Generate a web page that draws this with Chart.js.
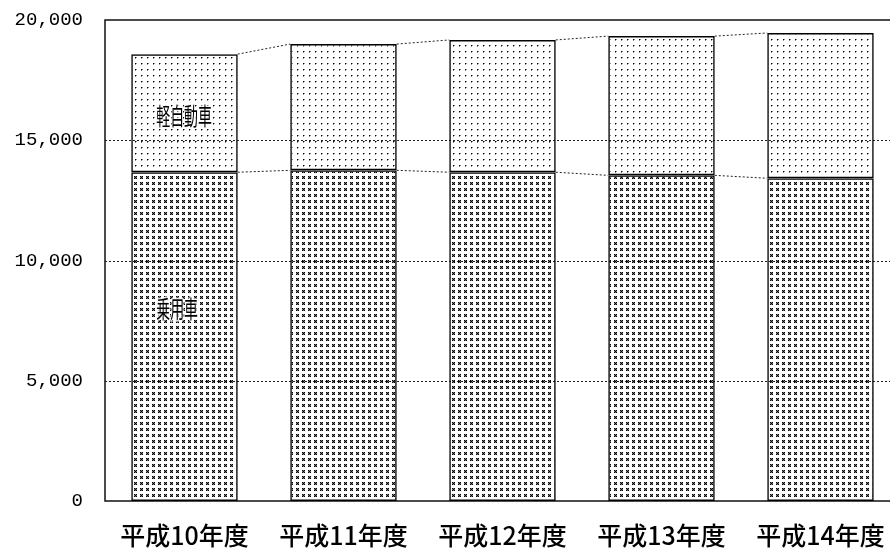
<!DOCTYPE html>
<html lang="ja">
<head>
<meta charset="utf-8">
<script src="https://cdn.jsdelivr.net/npm/chart.js@4"></script>
<style>
  html, body { margin: 0; padding: 0; background: #fff; overflow: hidden; }
  #wrap { width: 890px; height: 552px; overflow: hidden; }
</style>
</head>
<body>
<div id="wrap"><canvas id="grafico" width="905" height="552"></canvas></div>
<script>
// 年度
const categorias = ['平成10年度', '平成11年度', '平成12年度', '平成13年度', '平成14年度'];
// 乗用車 / 軽自動車 (台数)
const joyosha = [13670, 13750, 13670, 13540, 13420];
const keijidosha = [4910, 5250, 5500, 5790, 6040];
// 目盛
const yTicks = [0, 5000, 10000, 15000, 20000];
// 棒の中のラベル [系列, 年度, 値]
const etiquetas = [['軽自動車', 0, 16000], ['乗用車', 0, 8000]];

// 網掛けパターン
function padraoPontos() {
    const c = document.createElement('canvas');
    c.width = 6; c.height = 6;
    const g = c.getContext('2d');
    g.fillStyle = '#000';
    g.fillRect(3, 3, 1, 1);
    g.fillStyle = 'rgba(0,0,0,0.45)';
    g.fillRect(4, 3, 1, 1);
    g.fillRect(3, 4, 1, 1);
    return g.createPattern(c, 'repeat');
}
function padraoCruz() {
    const c = document.createElement('canvas');
    c.width = 6; c.height = 6;
    const g = c.getContext('2d');
    g.fillStyle = 'rgba(0,0,0,0.55)';
    g.fillRect(2, 2, 3, 3);
    g.fillStyle = '#000';
    [[2, 2], [4, 2], [3, 3], [2, 4], [4, 4]].forEach(p => g.fillRect(p[0], p[1], 1, 1));
    return g.createPattern(c, 'repeat');
}

const ctx = document.getElementById('grafico').getContext('2d');

// 点線の目盛線と枠
const gradePlugin = {
    id: 'grade',
    beforeDatasetsDraw(chart) {
        const { ctx, chartArea: a, scales: { y } } = chart;
        ctx.save();
        ctx.strokeStyle = '#222';
        ctx.lineWidth = 1;
        ctx.setLineDash([2, 2]);
        yTicks.slice(1, -1).forEach(v => {
            const py = Math.round(y.getPixelForValue(v)) + 0.5;
            ctx.beginPath();
            ctx.moveTo(a.left, py);
            ctx.lineTo(a.right, py);
            ctx.stroke();
        });
        ctx.setLineDash([]);
        ctx.lineWidth = 1.5;
        ctx.strokeStyle = '#111';
        ctx.beginPath();
        ctx.moveTo(a.right, a.top);
        ctx.lineTo(a.left, a.top);
        ctx.lineTo(a.left, a.bottom);
        ctx.lineTo(a.right, a.bottom);
        ctx.stroke();
        ctx.restore();
    }
};

// 棒どうしを結ぶ点線とラベル
const ligacaoPlugin = {
    id: 'ligacao',
    afterDatasetsDraw(chart) {
        const { ctx } = chart;
        ctx.save();
        ctx.strokeStyle = '#222';
        ctx.lineWidth = 1;
        ctx.setLineDash([2, 2]);
        chart.data.datasets.forEach((ds, di) => {
            const meta = chart.getDatasetMeta(di);
            for (let i = 0; i < meta.data.length - 1; i++) {
                const b = meta.data[i], n = meta.data[i + 1];
                ctx.beginPath();
                ctx.moveTo(b.x + b.width / 2, b.y);
                ctx.lineTo(n.x - n.width / 2, n.y);
                ctx.stroke();
            }
        });
        ctx.setLineDash([]);
        const y = chart.scales.y;
        ctx.font = '24px "Noto Sans CJK JP"';
        ctx.textBaseline = 'middle';
        ctx.textAlign = 'left';
        ctx.lineJoin = 'round';
        etiquetas.forEach(([txt, idx, val]) => {
            const bar = chart.getDatasetMeta(0).data[idx];
            const px = bar.x - bar.width / 2 + 25;
            const py = y.getPixelForValue(val);
            ctx.save();
            ctx.translate(px, py);
            ctx.scale(0.58, 1);
            ctx.strokeStyle = 'rgba(255,255,255,0.85)';
            ctx.lineWidth = 3;
            ctx.strokeText(txt, 0, 0);
            ctx.fillStyle = '#000';
            ctx.fillText(txt, 0, 0);
            ctx.restore();
        });
        ctx.restore();
    }
};

new Chart(ctx, {
    type: 'bar',
    data: {
        labels: categorias,
        datasets: [{
            label: '乗用車',
            data: joyosha,
            backgroundColor: padraoCruz(),
            borderColor: '#000',
            borderWidth: 1.5,
            borderSkipped: false,
            barPercentage: 0.67,
            categoryPercentage: 1
        }, {
            label: '軽自動車',
            data: keijidosha,
            backgroundColor: padraoPontos(),
            borderColor: '#000',
            borderWidth: 1.5,
            borderSkipped: false,
            barPercentage: 0.67,
            categoryPercentage: 1
        }]
    },
    options: {
        responsive: false,
        animation: false,
        layout: { padding: { top: 20, right: 5, left: 0, bottom: 0 } },
        plugins: { legend: { display: false }, tooltip: { enabled: false } },
        scales: {
            x: {
                stacked: true,
                grid: { display: false, drawTicks: false },
                border: { display: false },
                afterFit(s) { s.height = 51; },
                ticks: {
                    padding: 19,
                    color: '#000',
                    maxRotation: 0,
                    autoSkip: false,
                    font: { family: '"Noto Sans CJK JP"', size: 25, weight: '500' }
                }
            },
            y: {
                stacked: true,
                min: 0,
                max: 20000,
                grid: { display: false, drawTicks: false },
                border: { display: false },
                afterFit(s) { s.width = 105; s.paddingTop = 0; s.paddingBottom = 0; },
                afterBuildTicks(s) { s.ticks = yTicks.map(v => ({ value: v })); },
                ticks: {
                    padding: 22,
                    color: '#000',
                    font: { family: '"Liberation Mono"', size: 19 },
                    callback: v => v.toLocaleString('en-US')
                }
            }
        }
    },
    plugins: [gradePlugin, ligacaoPlugin]
});
</script>
</body>
</html>
